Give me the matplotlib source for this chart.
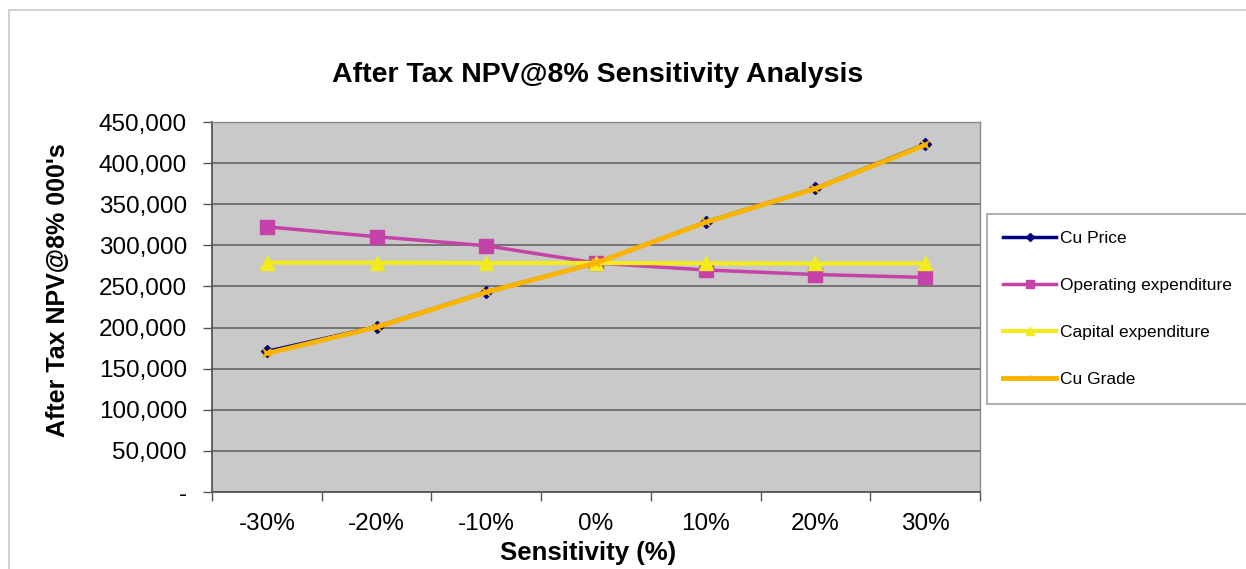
import matplotlib.pyplot as plt
from matplotlib.patches import Rectangle
from matplotlib.ticker import FuncFormatter

plt.rcParams["font.family"] = ["Liberation Sans", "DejaVu Sans"]

categories = ["-30%", "-20%", "-10%", "0%", "10%", "20%", "30%"]
cu_price = [171000, 201000, 243500, 278500, 328500, 369500, 423000]
opex = [322500, 310500, 299500, 278500, 270000, 264500, 261000]
capex = [279000, 279000, 278500, 278500, 278000, 278000, 278000]
cu_grade = [168500, 200500, 243000, 278500, 328000, 369000, 422000]

W, H = 1246, 569
fig = plt.figure(figsize=(W / 100, H / 100), dpi=100)
fig.patches.append(Rectangle((9 / W, -0.1), 1.2, 1 - 10 / H + 0.1, transform=fig.transFigure,
                             fill=False, edgecolor="#c8c8c8", linewidth=1.2))

ax = fig.add_axes([212 / W, 1 - 492 / H, (980 - 212) / W, (492 - 122) / H])
ax.set_facecolor("#c9c9c9")

x = list(range(len(categories)))
ax.plot(x, cu_price, color="#000080", marker="D", markersize=6.5, linewidth=2.5, label="Cu Price", zorder=3)
ax.plot(x, opex, color="#c543a8", marker="s", markersize=10, linewidth=2.5,
        label="Operating expenditure", zorder=3)
ax.plot(x, capex, color="#f2ec1c", marker="^", markersize=10, linewidth=3,
        label="Capital expenditure", zorder=3)
ax.plot(x, cu_grade, color="#f9b400", marker="x", markersize=6, markeredgewidth=1.5,
        linewidth=3.5, label="Cu Grade", zorder=4)

ax.set_xlim(-0.5, len(categories) - 0.5)
ax.set_ylim(0, 450000)
ax.set_yticks(range(0, 450001, 50000))
ax.yaxis.set_major_formatter(FuncFormatter(lambda v, p: "-" if v == 0 else f"{int(v):,}"))
ax.grid(axis="y", color="#6e6e6e", linewidth=1.3)
ax.set_axisbelow(True)

ax.set_xticks(x)
ax.set_xticklabels(categories)
ax.set_xticks([i - 0.5 for i in range(len(categories) + 1)], minor=True)
ax.tick_params(axis="x", which="major", length=0, pad=15, labelsize=17.5)
ax.tick_params(axis="x", which="minor", length=6.5, width=1, color="#555555")
ax.tick_params(axis="y", length=6.5, width=1, color="#555555", pad=11.5, labelsize=17.5)

for s in ["left", "bottom"]:
    ax.spines[s].set_color("#555555")
    ax.spines[s].set_linewidth(1.3)
for s in ["top", "right"]:
    ax.spines[s].set_color("#8a8a8a")
    ax.spines[s].set_linewidth(1.0)

fig.text(598 / W, 1 - 75 / H, "After Tax NPV@8% Sensitivity Analysis", ha="center", va="center",
         fontsize=20.5, fontweight="bold")
fig.text(588 / W, 1 - 553 / H, "Sensitivity (%)", ha="center", va="center",
         fontsize=18.5, fontweight="bold")
fig.text(58 / W, 1 - 290 / H, "After Tax NPV@8% 000's", ha="center", va="center",
         rotation=90, fontsize=18, fontweight="bold")

leg = fig.legend(loc="upper left", bbox_to_anchor=(987 / W, 1 - 214 / H), fontsize=12.5,
                 frameon=True, fancybox=False, edgecolor="#8a8a8a", handlelength=3,
                 labelspacing=1.85, borderpad=0.95, markerscale=0.6, handletextpad=0.25,
                 borderaxespad=0)
leg.get_frame().set_linewidth(1.2)

fig.savefig("out.png", dpi=100)
